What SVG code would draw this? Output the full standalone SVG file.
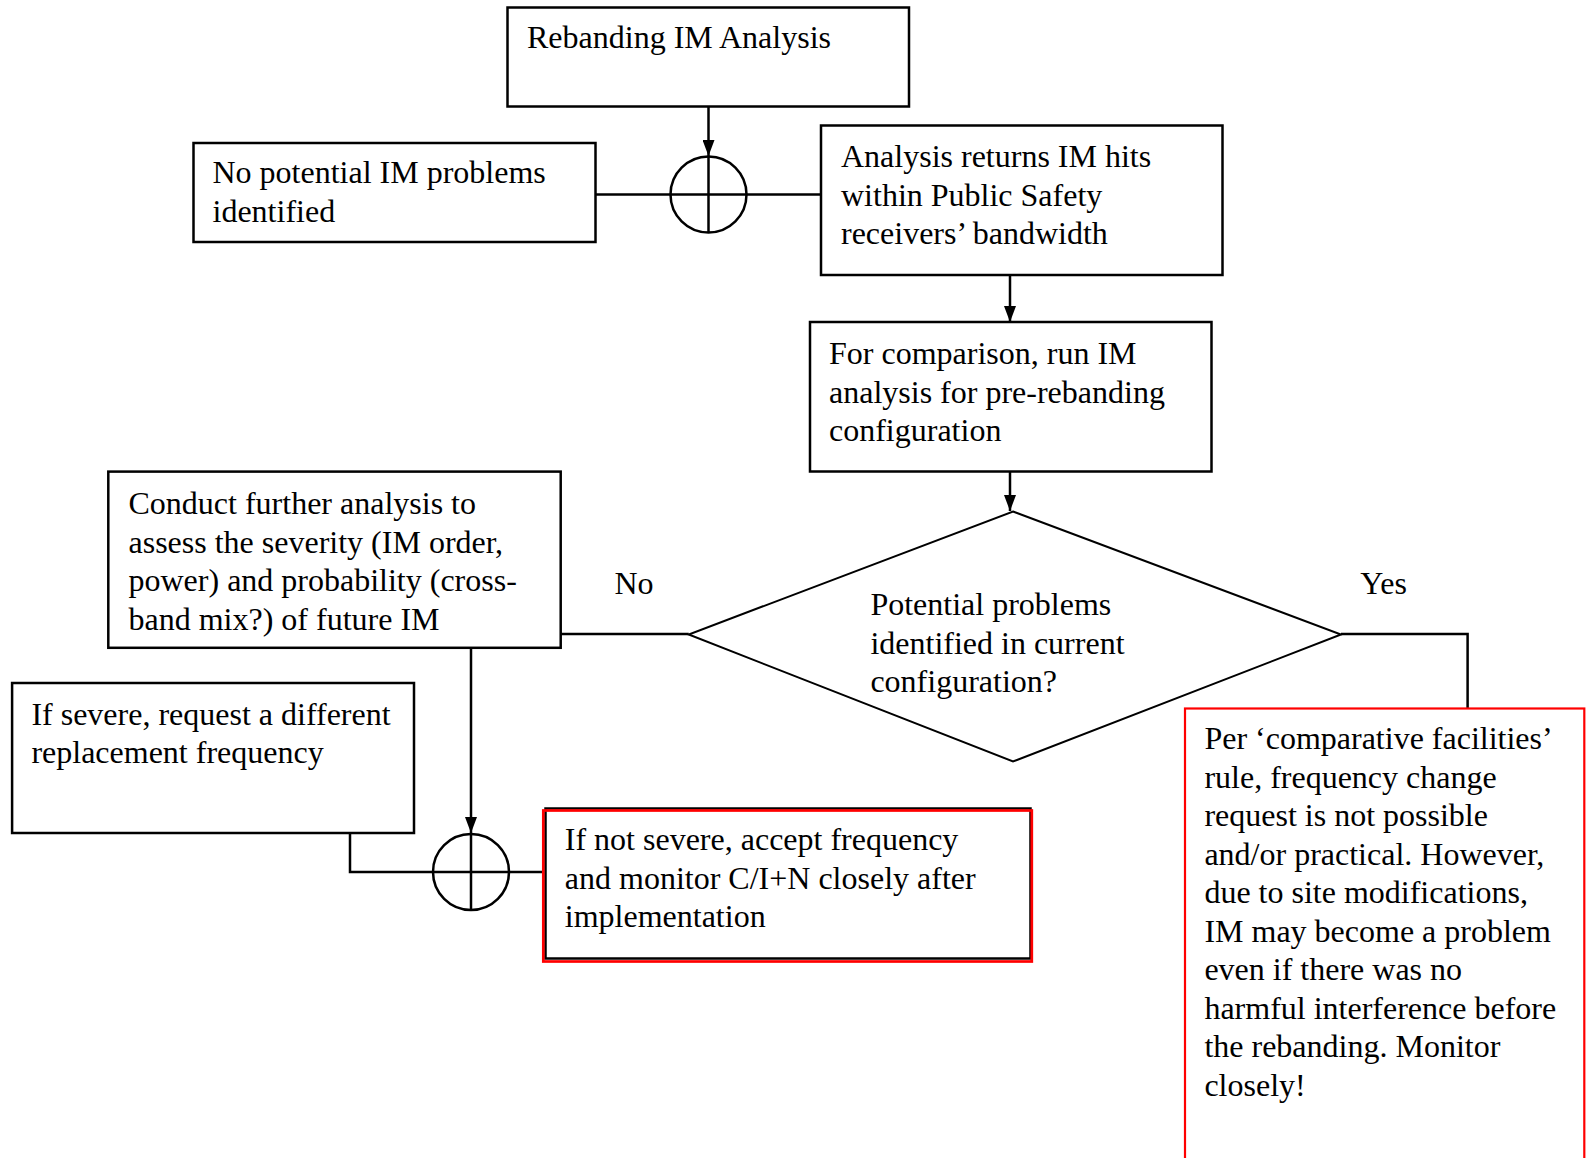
<svg xmlns="http://www.w3.org/2000/svg" width="1587" height="1158" viewBox="0 0 1587 1158">
  <style>
    .box { fill: #ffffff; stroke: #000000; stroke-width: 2.5; }
    .diamond { fill: #ffffff; stroke: #000000; stroke-width: 2; }
    .red { fill: none; stroke: #ff0000; stroke-width: 2.7; }
    .redbox { fill: #ffffff; stroke: #ff0000; stroke-width: 2.2; }
    .line { fill: none; stroke: #000000; stroke-width: 2.5; }
    .txt { font-family: "Liberation Serif", "Times New Roman", serif; font-size: 32px; fill: #000000; }
  </style>
  <defs>
    <marker id="arrow" viewBox="0 0 16 12" refX="16" refY="6" markerWidth="16" markerHeight="12" markerUnits="userSpaceOnUse" orient="auto">
      <path d="M0,0 L16,6 L0,12 z" fill="#000000"/>
    </marker>
  </defs>
  <rect width="1587" height="1158" fill="#ffffff"/>

  <!-- connectors -->
  <g id="connectors">
    <line class="line" x1="708.5" y1="106" x2="708.5" y2="156" marker-end="url(#arrow)"/>
    <line class="line" x1="595.5" y1="194.5" x2="821" y2="194.5"/>
    <line class="line" x1="1010" y1="275" x2="1010" y2="322" marker-end="url(#arrow)"/>
    <line class="line" x1="1010" y1="472" x2="1010" y2="511" marker-end="url(#arrow)"/>
    <line class="line" x1="560.7" y1="634" x2="688.7" y2="634"/>
    <polyline class="line" points="1341,634 1467.6,634 1467.6,708"/>
    <line class="line" x1="471" y1="648" x2="471" y2="833" marker-end="url(#arrow)"/>
    <polyline class="line" points="350,833 350,872 433,872"/>
    <line class="line" x1="509" y1="872" x2="544" y2="872"/>
  </g>

  <!-- junction circles -->
  <g id="junction-top">
    <circle class="box" cx="708.5" cy="194.5" r="38"/>
    <line class="line" x1="670.5" y1="194.5" x2="746.5" y2="194.5"/>
    <line class="line" x1="708.5" y1="156.5" x2="708.5" y2="232.5"/>
  </g>
  <g id="junction-bottom">
    <circle class="box" cx="471" cy="872" r="38"/>
    <line class="line" x1="433" y1="872" x2="509" y2="872"/>
    <line class="line" x1="471" y1="834" x2="471" y2="910"/>
  </g>

  <g id="rebanding-analysis">
    <rect class="box" x="507.5" y="7.5" width="401.5" height="99"/>
    <text class="txt" x="527" y="48">Rebanding IM Analysis</text>
  </g>

  <g id="no-problems">
    <rect class="box" x="193.5" y="143" width="402" height="99"/>
    <text class="txt" x="212.5" y="183">No potential IM problems</text>
    <text class="txt" x="212.5" y="221.5">identified</text>
  </g>

  <g id="im-hits">
    <rect class="box" x="821" y="125.5" width="401.5" height="149.5"/>
    <text class="txt" x="841" y="167">Analysis returns IM hits</text>
    <text class="txt" x="841" y="205.5">within Public Safety</text>
    <text class="txt" x="841" y="244">receivers’ bandwidth</text>
  </g>

  <g id="pre-rebanding">
    <rect class="box" x="810" y="322" width="401.5" height="149.5"/>
    <text class="txt" x="829" y="364">For comparison, run IM</text>
    <text class="txt" x="829" y="402.5">analysis for pre-rebanding</text>
    <text class="txt" x="829" y="441">configuration</text>
  </g>

  <g id="decision">
    <polygon class="diamond" points="1013,511.5 1341,634.5 1013,761.5 688.7,634.5"/>
    <text class="txt" x="870.4" y="615">Potential problems</text>
    <text class="txt" x="870.4" y="653.5">identified in current</text>
    <text class="txt" x="870.4" y="692">configuration?</text>
  </g>

  <g id="label-no">
    <text class="txt" x="614.4" y="594">No</text>
  </g>
  <g id="label-yes">
    <text class="txt" x="1360.3" y="594">Yes</text>
  </g>

  <g id="further-analysis">
    <rect class="box" x="108.3" y="471.6" width="452.4" height="176.2"/>
    <text class="txt" x="128.5" y="514">Conduct further analysis to</text>
    <text class="txt" x="128.5" y="552.5">assess the severity (IM order,</text>
    <text class="txt" x="128.5" y="591">power) and probability (cross-</text>
    <text class="txt" x="128.5" y="629.5">band mix?) of future IM</text>
  </g>

  <g id="severe">
    <rect class="box" x="12.1" y="683" width="401.9" height="150"/>
    <text class="txt" x="31.4" y="724.5">If severe, request a different</text>
    <text class="txt" x="31.4" y="763">replacement frequency</text>
  </g>

  <g id="not-severe">
    <rect class="box" x="545.5" y="808.5" width="485" height="150"/>
    <rect class="red" x="543.3" y="810.5" width="488.5" height="151"/>
    <text class="txt" x="564.8" y="850">If not severe, accept frequency</text>
    <text class="txt" x="564.8" y="888.5">and monitor C/I+N closely after</text>
    <text class="txt" x="564.8" y="927">implementation</text>
  </g>

  <g id="comparative-facilities">
    <rect class="redbox" x="1185" y="708.5" width="399.3" height="470"/>
    <text class="txt" x="1204.4" y="749">Per ‘comparative facilities’</text>
    <text class="txt" x="1204.4" y="787.5">rule, frequency change</text>
    <text class="txt" x="1204.4" y="826">request is not possible</text>
    <text class="txt" x="1204.4" y="864.5">and/or practical. However,</text>
    <text class="txt" x="1204.4" y="903">due to site modifications,</text>
    <text class="txt" x="1204.4" y="941.5">IM may become a problem</text>
    <text class="txt" x="1204.4" y="980">even if there was no</text>
    <text class="txt" x="1204.4" y="1018.5">harmful interference before</text>
    <text class="txt" x="1204.4" y="1057">the rebanding. Monitor</text>
    <text class="txt" x="1204.4" y="1095.5">closely!</text>
  </g>
</svg>
